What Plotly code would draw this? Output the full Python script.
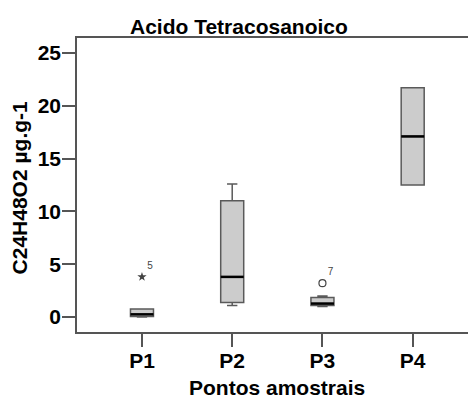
import plotly.graph_objects as go

# Sampling points and box statistics (C24H48O2, µg.g-1)
categories = ["P1", "P2", "P3", "P4"]
q1 = [0.05, 1.37, 1.10, 12.5]
median = [0.25, 3.8, 1.27, 17.1]
q3 = [0.75, 11.0, 1.84, 21.7]
lower_whisker = [0.0, 1.10, 1.00, 12.5]
upper_whisker = [0.75, 12.6, 2.00, 21.7]

# Outliers: extreme (star) and mild (circle) with case numbers
extreme_cat = ["P1"]
extreme_val = [3.8]
extreme_case = ["5"]
mild_cat = ["P3"]
mild_val = [3.2]
mild_case = ["7"]

y_ticks = [0, 5, 10, 15, 20, 25]

FONT = "Liberation Sans, Arial, sans-serif"
FS = 21
BOX_W = 0.255
xpos = {c: i + 1 for i, c in enumerate(categories)}
xs = [xpos[c] for c in categories]

fig = go.Figure()

fig.add_trace(go.Box(
    x=xs, q1=q1, median=median, q3=q3,
    lowerfence=lower_whisker, upperfence=upper_whisker,
    width=BOX_W, whiskerwidth=0.45,
    fillcolor="#cccccc", line=dict(color="#5a5a5a", width=1.5),
    boxpoints=False, showlegend=False, hoverinfo="skip",
))

# Black median bars drawn over the boxes
mx, my = [], []
for x, m in zip(xs, median):
    mx += [x - BOX_W / 2, x + BOX_W / 2, None]
    my += [m, m, None]
fig.add_trace(go.Scatter(x=mx, y=my, mode="lines",
                         line=dict(color="black", width=2.5),
                         showlegend=False, hoverinfo="skip"))

case_font = dict(family=FONT, size=10, color="#444444", weight="normal")
fig.add_trace(go.Scatter(
    x=[xpos[c] for c in extreme_cat], y=extreme_val, mode="markers+text",
    marker=dict(symbol="star", size=7, color="#444444"),
    text=extreme_case, textposition="top right", textfont=case_font,
    showlegend=False, hoverinfo="skip"))
fig.add_trace(go.Scatter(
    x=[xpos[c] for c in mild_cat], y=mild_val, mode="markers+text",
    marker=dict(symbol="circle-open", size=7, color="#444444",
                line=dict(width=1.2)),
    text=mild_case, textposition="top right", textfont=case_font,
    showlegend=False, hoverinfo="skip"))

fig.update_layout(
    width=468, height=401,
    margin=dict(l=77, r=0, t=38, b=69),
    paper_bgcolor="white", plot_bgcolor="white",
    font=dict(family=FONT, size=FS, color="black", weight="bold"),
    xaxis=dict(
        range=[0.28, 4.613], tickvals=xs, ticktext=categories,
        ticks="outside", ticklen=13, tickcolor="#555555", tickwidth=1.5,
        ticklabelstandoff=-4,
        showline=True, linecolor="#555555", linewidth=1.5, mirror=True,
        showgrid=False, zeroline=False,
        tickfont=dict(family=FONT, size=FS, color="black", weight="bold"),
    ),
    yaxis=dict(
        range=[-1.42, 26.42], tickvals=y_ticks,
        ticks="outside", ticklen=13, tickcolor="#555555", tickwidth=1.5,
        ticklabelstandoff=-3,
        showline=True, linecolor="#555555", linewidth=1.5,
        showgrid=False, zeroline=False,
        tickfont=dict(family=FONT, size=FS, color="black", weight="bold"),
    ),
    annotations=[
        dict(text="Acido Tetracosanoico", xref="paper", yref="paper",
             x=0.415, y=1, yshift=-2, xanchor="center", yanchor="bottom",
             showarrow=False,
             font=dict(family=FONT, size=FS, color="black", weight="bold")),
        dict(text="Pontos amostrais", xref="x", yref="paper",
             x=2.5, y=0, yshift=-42, xanchor="center", yanchor="top",
             showarrow=False,
             font=dict(family=FONT, size=FS, color="black", weight="bold")),
        dict(text="C24H48O2 µg.g-1", xref="paper", yref="paper",
             x=0, xshift=-44, y=0.49, xanchor="right", yanchor="middle",
             textangle=-90, showarrow=False,
             font=dict(family=FONT, size=FS, color="black", weight="bold")),
    ],
)

fig.write_html("out.html")
